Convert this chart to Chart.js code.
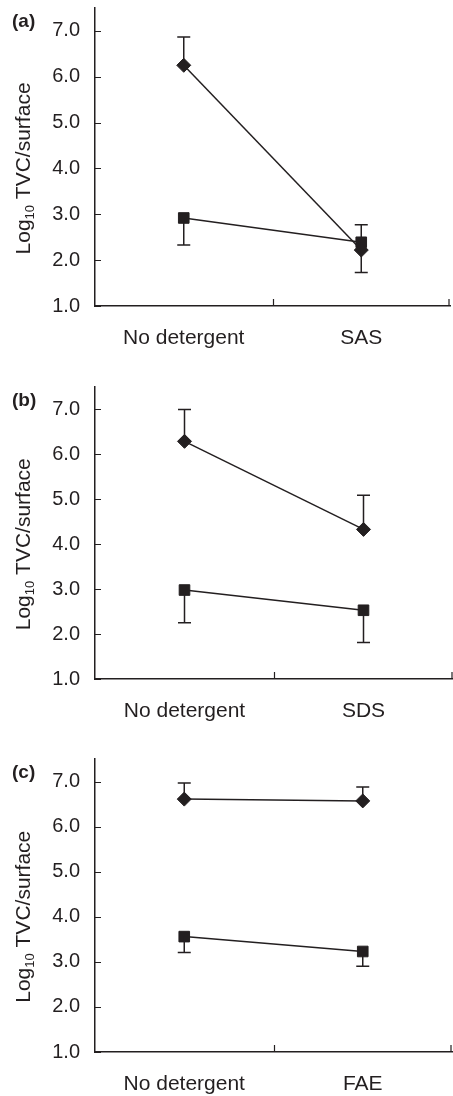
<!DOCTYPE html>
<html>
<head>
<meta charset="utf-8">
<script src="https://cdn.jsdelivr.net/npm/chart.js@4/dist/chart.umd.min.js"></script>
<style>
  html, body { margin: 0; padding: 0; background: #fff; }
  #wrap { position: relative; width: 453px; height: 1096px; overflow: hidden; }
  #wrap canvas { position: absolute; left: 0; }
</style>
</head>
<body>
<div id="wrap">
  <canvas id="chart-a" width="453" height="350" style="top:0px"></canvas>
  <canvas id="chart-b" width="453" height="353" style="top:370px"></canvas>
  <canvas id="chart-c" width="453" height="356" style="top:740px"></canvas>
</div>
<script>
// data (log10 TVC per surface)
var yTicks = [1, 2, 3, 4, 5, 6, 7];

var categoriesA = ['No detergent', 'SAS'];
var diamondA = [6.25, 2.22];
var diamondErrA = [0.62, 0.55];   // drawn upwards
var squareA = [2.92, 2.39];
var squareErrA = [0.59, 0.66];    // drawn downwards

var categoriesB = ['No detergent', 'SDS'];
var diamondB = [6.29, 4.33];
var diamondErrB = [0.71, 0.76];
var squareB = [2.98, 2.53];
var squareErrB = [0.73, 0.72];

var categoriesC = ['No detergent', 'FAE'];
var diamondC = [6.61, 6.57];
var diamondErrC = [0.36, 0.31];
var squareC = [3.56, 3.23];
var squareErrC = [0.35, 0.33];

var INK = '#231f20';
var FONT = '"Liberation Sans", Arial, Helvetica, sans-serif';

/**
 * Error bars, inward tick marks, panel letter and the y title (with subscript).
 */
var decorPlugin = {
    id: 'decor',
    afterDatasetsDraw: function(chart, args, opts) {
        var ctx = chart.ctx;
        var xs = chart.scales.x;
        var ys = chart.scales.y;
        ctx.save();
        ctx.strokeStyle = INK;
        ctx.lineWidth = 1.5;

        // error bars: diamonds up, squares down
        chart.data.datasets.forEach(function(ds) {
            ds.data.forEach(function(v, i) {
                var x = xs.getPixelForValue(i);
                var y0 = ys.getPixelForValue(v);
                var y1 = ys.getPixelForValue(v + ds.errDir * ds.err[i]);
                ctx.beginPath();
                ctx.moveTo(x, y0);
                ctx.lineTo(x, y1);
                ctx.moveTo(x - 6.5, y1);
                ctx.lineTo(x + 6.5, y1);
                ctx.stroke();
            });
        });

        // tick marks pointing into the plot
        ctx.lineWidth = 1.2;
        ctx.beginPath();
        yTicks.forEach(function(t) {
            var py = Math.round(ys.getPixelForValue(t)) + 0.5;
            ctx.moveTo(xs.left, py);
            ctx.lineTo(xs.left + 6, py);
        });
        var mid = Math.round((xs.getPixelForValue(0) + xs.getPixelForValue(1)) / 2) + 0.5;
        ctx.moveTo(mid, ys.bottom);
        ctx.lineTo(mid, ys.bottom - 7);
        ctx.moveTo(xs.right - 1, ys.bottom);
        ctx.lineTo(xs.right - 1, ys.bottom - 7);
        ctx.stroke();

        // panel letter
        ctx.fillStyle = INK;
        ctx.font = 'bold 19px ' + FONT;
        ctx.textAlign = 'left';
        ctx.textBaseline = 'alphabetic';
        ctx.fillText(opts.letter, 12, chart.chartArea.top + 19);

        // rotated y title: Log10 TVC/surface
        var yc = (ys.getPixelForValue(yTicks[0]) + ys.getPixelForValue(yTicks[yTicks.length - 1])) / 2;
        var big = '21px ' + FONT;
        var small = '13px ' + FONT;
        ctx.font = big;
        var w1 = ctx.measureText('Log').width;
        var w3 = ctx.measureText(' TVC/surface').width;
        ctx.font = small;
        var w2 = ctx.measureText('10').width;
        var total = w1 + w2 + w3;
        ctx.translate(30, yc);
        ctx.rotate(-Math.PI / 2);
        var sx = -total / 2;
        ctx.font = big;
        ctx.fillText('Log', sx, 0);
        ctx.font = small;
        ctx.fillText('10', sx + w1, 4);
        ctx.font = big;
        ctx.fillText(' TVC/surface', sx + w1 + w2, 0);
        ctx.restore();
    }
};

function makePanel(id, letter, cats, dia, diaErr, sq, sqErr, padTop, padRight) {
    var ctx = document.getElementById(id).getContext('2d');
    return new Chart(ctx, {
        type: 'line',
        data: {
            labels: cats,
            datasets: [{
                data: dia,
                err: diaErr,
                errDir: 1,
                borderColor: INK,
                borderWidth: 1.5,
                pointStyle: 'rectRot',
                pointRadius: 7,
                pointBackgroundColor: INK,
                pointBorderColor: INK,
                pointBorderWidth: 1
            }, {
                data: sq,
                err: sqErr,
                errDir: -1,
                borderColor: INK,
                borderWidth: 1.5,
                pointStyle: 'rect',
                pointRadius: 7.5,
                pointBackgroundColor: INK,
                pointBorderColor: INK,
                pointBorderWidth: 1
            }]
        },
        options: {
            responsive: false,
            animation: false,
            events: [],
            layout: { autoPadding: false, padding: { top: padTop, right: padRight, left: 0, bottom: 0 } },
            plugins: {
                legend: { display: false },
                tooltip: { enabled: false },
                decor: { letter: letter }
            },
            scales: {
                x: {
                    type: 'category',
                    offset: true,
                    grid: { display: false, drawTicks: false },
                    border: { display: true, color: INK, width: 1.5 },
                    ticks: { color: INK, font: { family: FONT, size: 21 }, padding: 20, maxRotation: 0 },
                    afterFit: function(scale) {
                        scale.height = 44;
                        scale.paddingLeft = 0;
                        scale.paddingRight = 0;
                    }
                },
                y: {
                    min: 1,
                    max: 7.5,
                    grid: { display: false, drawTicks: false },
                    border: { display: true, color: INK, width: 1.5 },
                    afterBuildTicks: function(scale) {
                        scale.ticks = yTicks.map(function(v) { return { value: v }; });
                    },
                    ticks: {
                        color: INK,
                        font: { family: FONT, size: 20 },
                        padding: 15,
                        callback: function(v) { return Number(v).toFixed(1); }
                    },
                    afterFit: function(scale) {
                        scale.width = 95;
                        scale.paddingTop = 0;
                        scale.paddingBottom = 0;
                    }
                }
            }
        },
        plugins: [decorPlugin]
    });
}

makePanel('chart-a', '(a)', categoriesA, diamondA, diamondErrA, squareA, squareErrA, 8, 3);
makePanel('chart-b', '(b)', categoriesB, diamondB, diamondErrB, squareB, squareErrB, 17, 0);
makePanel('chart-c', '(c)', categoriesC, diamondC, diamondErrC, squareC, squareErrC, 19, 1);
</script>
</body>
</html>
